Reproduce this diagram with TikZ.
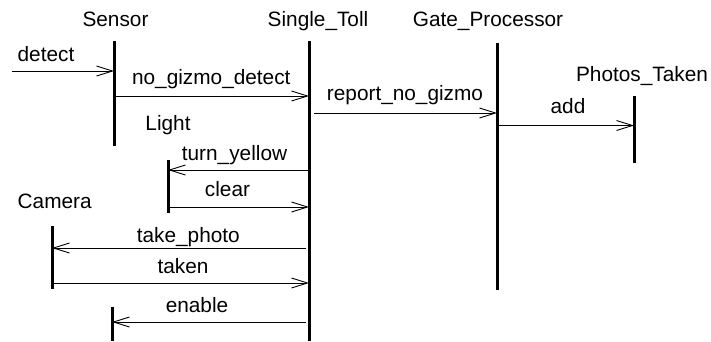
\documentclass[tikz,border=0pt]{standalone}
\usepackage{fontspec}
\setmainfont{Liberation Sans}
\usetikzlibrary{arrows.meta}
\begin{document}
\begin{tikzpicture}[x=1pt,y=-1pt,
  lifeline/.style={line width=3pt},
  msg/.style={line width=0.9pt,-{Straight Barb[length=16pt,width=10pt,line width=0.9pt]}},
  lbl/.style={anchor=base,inner sep=0pt,font=\fontsize{20.8}{24}\selectfont}]
\useasboundingbox (0,0) rectangle (711,341);

% object names
\node[lbl] (sensorL) at (115.5,26.5) {Sensor};
\node[lbl] (tollL)   at (318,26.5)   {Single\_Toll};
\node[lbl] (gateL)   at (488,26.5)   {Gate\_Processor};
\node[lbl] (photosL) at (642,81.5)   {Photos\_Taken};
\node[lbl] (lightL)  at (168,130)    {Light};
\node[lbl] (cameraL) at (54.7,208)   {Camera};

% lifelines
\coordinate (sensorT) at (114,41);  \coordinate (sensorB) at (114,146);
\coordinate (tollT)   at (309,41);  \coordinate (tollB)   at (309,341);
\coordinate (gateT)   at (497,43);  \coordinate (gateB)   at (497,290);
\coordinate (photosT) at (634,96);  \coordinate (photosB) at (634,163);
\coordinate (lightT)  at (168,160); \coordinate (lightB)  at (168,213);
\coordinate (cameraT) at (52,226);  \coordinate (cameraB) at (52,289);
\coordinate (sensor2T) at (112,307); \coordinate (sensor2B) at (112,341);
\foreach \o in {sensor,toll,gate,photos,light,camera,sensor2}
  \draw[lifeline] (\o T) -- (\o B);

% message rows
\coordinate (rDetect) at (0,71);
\coordinate (rNoGizmo) at (0,96);
\coordinate (rReport) at (0,113);
\coordinate (rAdd) at (0,125.5);
\coordinate (rYellow) at (0,170);
\coordinate (rClear) at (0,207);
\coordinate (rPhoto) at (0,248);
\coordinate (rTaken) at (0,283);
\coordinate (rEnable) at (0,322);
\coordinate (detectSrc) at (12,71);

% messages
\draw[msg] (detectSrc) -- (sensorT |- rDetect);
\draw[msg] (sensorT |- rNoGizmo) -- (tollT |- rNoGizmo);
\draw[msg] ([xshift=5pt]tollT |- rReport) -- (gateT |- rReport);
\draw[msg] (gateT |- rAdd) -- (photosT |- rAdd);
\draw[msg] (tollT |- rYellow) -- (lightT |- rYellow);
\draw[msg] (lightT |- rClear) -- (tollT |- rClear);
\draw[msg] ([xshift=-3pt]tollT |- rPhoto) -- (cameraT |- rPhoto);
\draw[msg] (cameraT |- rTaken) -- (tollT |- rTaken);
\draw[msg] ([xshift=-3pt]tollT |- rEnable) -- (sensor2T |- rEnable);

% message labels
\node[lbl] (detectL)   at (46,61)     {detect};
\node[lbl] (noGizmoL)  at (211.3,84)  {no\_gizmo\_detect};
\node[lbl] (reportL)   at (405,100.5) {report\_no\_gizmo};
\node[lbl] (addL)      at (568,113.5) {add};
\node[lbl] (yellowL)   at (234.5,160) {turn\_yellow};
\node[lbl] (clearL)    at (227.5,196) {clear};
\node[lbl] (photoL)    at (188.3,242) {take\_photo};
\node[lbl] (takenL)    at (183,273)   {taken};
\node[lbl] (enableL)   at (197,312)   {enable};
\end{tikzpicture}
\end{document}
